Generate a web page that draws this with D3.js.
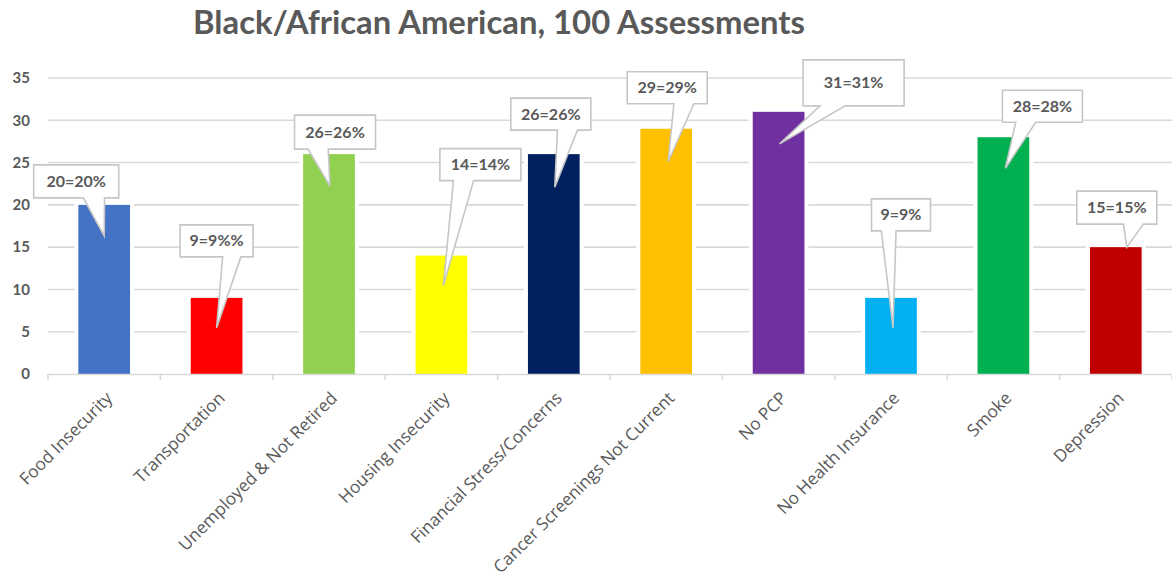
<!DOCTYPE html>
<html>
<head>
<meta charset="utf-8">
<script src="https://cdn.jsdelivr.net/npm/d3@7"></script>
<style>
  body { margin: 0; background: #ffffff; }
  svg { display: block; }
</style>
</head>
<body>
<svg id="chart" width="1172" height="578"></svg>
<script>
// ---- data ----
const chartTitle = "Black/African American, 100 Assessments";
const categories = [
  "Food Insecurity", "Transportation", "Unemployed & Not Retired", "Housing Insecurity",
  "Financial Stress/Concerns", "Cancer Screenings Not Current", "No PCP",
  "No Health Insurance", "Smoke", "Depression"
];
const values = [20, 9, 26, 14, 26, 29, 31, 9, 28, 15];
const valueLabels = [
  "20=20%", "9=9%%", "26=26%", "14=14%", "26=26%",
  "29=29%", "31=31%", "9=9%", "28=28%", "15=15%"
];
const barColors = [
  "#4472C4", "#FF0000", "#92D050", "#FFFF00", "#002060",
  "#FFC000", "#7030A0", "#00B0F0", "#00B050", "#C00000"
];
const yTicks = [0, 5, 10, 15, 20, 25, 30, 35];

// ---- callout geometry (box offset from bar centre, gap above bar top, box size, tail tip offset) ----
const calloutLayout = [
  { dx: -28, lift: 7,  w: 85,  h: 33, tipDx: 0,  tipDrop: 31 },
  { dx: 0,   lift: 41, w: 73,  h: 32, tipDx: 0,  tipDrop: 30 },
  { dx: 6,   lift: 5,  w: 81,  h: 34, tipDx: 1,  tipDrop: 32 },
  { dx: 39,  lift: 75, w: 81,  h: 32, tipDx: 2,  tipDrop: 30 },
  { dx: -3,  lift: 24, w: 80,  h: 32, tipDx: 1,  tipDrop: 33 },
  { dx: 1,   lift: 25, w: 80,  h: 32, tipDx: 2,  tipDrop: 33 },
  { dx: 75,  lift: 6,  w: 101, h: 46, tipDx: 1,  tipDrop: 32 },
  { dx: 10,  lift: 67, w: 59,  h: 32, tipDx: 2,  tipDrop: 30 },
  { dx: 39,  lift: 15, w: 80,  h: 32, tipDx: 2,  tipDrop: 31 },
  { dx: 1,   lift: 23, w: 80,  h: 33, tipDx: 11, tipDrop: 0 }
];

const W = 1172, H = 578;
const margin = { top: 78, right: 0, bottom: 204, left: 48 };
const textColor = "#595959";
const gridColor = "#d9d9d9";
const fontFamily = "Lato, 'Open Sans', sans-serif";
const labelFont = "'Open Sans', Lato, sans-serif";

const svg = d3.select("#chart");

const x = d3.scaleBand()
  .domain(categories)
  .range([margin.left, W - margin.right])
  .paddingInner(0.54)
  .paddingOuter(0.27);

const y = d3.scaleLinear()
  .domain([0, 35])
  .range([H - margin.bottom, margin.top]);

// ---- title ----
const titleText = svg.append("text")
  .attr("x", 499)
  .attr("y", 34)
  .attr("text-anchor", "middle")
  .attr("fill", textColor)
  .style("font-family", fontFamily)
  .style("font-weight", 700)
  .style("font-size", "26px")
  .text(chartTitle);
const tw = titleText.node().getComputedTextLength();
titleText.style("font-size", (26 * 612 / tw).toFixed(2) + "px");

// ---- gridlines ----
svg.append("g")
  .selectAll("line")
  .data(yTicks.filter(t => t > 0))
  .join("line")
  .attr("x1", margin.left)
  .attr("x2", W - margin.right)
  .attr("y1", d => y(d))
  .attr("y2", d => y(d))
  .attr("stroke", gridColor)
  .attr("stroke-width", 1.6);

// ---- y axis labels ----
const yAxis = d3.axisLeft(y).tickValues(yTicks).tickSize(0).tickPadding(0);
const yG = svg.append("g")
  .attr("transform", `translate(30,0)`)
  .call(yAxis);
yG.select(".domain").remove();
yG.selectAll("text")
  .attr("fill", textColor)
  .attr("x", 0)
  .style("font-family", fontFamily)
  .style("font-weight", 700)
  .style("font-size", "15px");

// ---- bars (white halo keeps gridlines clear of the bar edges) ----
const barG = svg.append("g");
barG.selectAll("rect.halo")
  .data(values)
  .join("rect")
  .attr("class", "halo")
  .attr("x", (d, i) => x(categories[i]) - 4)
  .attr("width", x.bandwidth() + 8)
  .attr("y", d => y(d) - 2)
  .attr("height", d => y(0) - y(d) + 2)
  .attr("fill", "#ffffff");
barG.selectAll("rect.bar")
  .data(values)
  .join("rect")
  .attr("class", "bar")
  .attr("x", (d, i) => x(categories[i]))
  .attr("width", x.bandwidth())
  .attr("y", d => y(d))
  .attr("height", d => y(0) - y(d))
  .attr("fill", (d, i) => barColors[i]);

// ---- x axis line and category boundary ticks ----
const step = x.step();
const axisG = svg.append("g");
axisG.append("line")
  .attr("x1", margin.left)
  .attr("x2", W - margin.right)
  .attr("y1", y(0) + 0.5)
  .attr("y2", y(0) + 0.5)
  .attr("stroke", gridColor)
  .attr("stroke-width", 1.6);
axisG.selectAll("line.tick")
  .data(d3.range(categories.length + 1))
  .join("line")
  .attr("class", "tick")
  .attr("x1", i => margin.left + i * step)
  .attr("x2", i => margin.left + i * step)
  .attr("y1", y(0))
  .attr("y2", y(0) + 6)
  .attr("stroke", gridColor)
  .attr("stroke-width", 1.6);

// ---- category labels ----
svg.append("g")
  .selectAll("text")
  .data(categories)
  .join("text")
  .attr("transform", d => `translate(${x(d) + x.bandwidth() / 2 + 5},${y(0) + 21}) rotate(-45)`)
  .attr("text-anchor", "end")
  .attr("dy", "0.35em")
  .attr("fill", textColor)
  .style("font-family", labelFont)
  .style("font-size", "17.2px")
  .text(d => d);

// ---- value callouts ----
function calloutPath(l, t, w, h, tx, ty) {
  const r = l + w, b = t + h, cx = l + w / 2;
  const right = tx >= cx;
  const bl = l + w * (right ? 7 : 2) / 12;
  const br = l + w * (right ? 10 : 5) / 12;
  return `M${l},${t}H${r}V${b}H${br}L${tx},${ty}L${bl},${b}H${l}Z`;
}

const callG = svg.append("g");
values.forEach((v, i) => {
  const c = calloutLayout[i];
  const cx = x(categories[i]) + x.bandwidth() / 2;
  const top = y(v);
  const bw = c.w, bh = c.h;
  const bl = cx + c.dx - bw / 2;
  const bb = top - c.lift;
  const bt = bb - bh;
  const tipX = cx + c.tipDx;
  const tipY = top + c.tipDrop;
  const g = callG.append("g");
  g.append("path")
    .attr("d", calloutPath(bl, bt, bw, bh, tipX, tipY))
    .attr("fill", "#ffffff")
    .attr("stroke", "#c6c6c6")
    .attr("stroke-width", 1.6)
    .attr("stroke-linejoin", "miter");
  g.append("text")
    .attr("x", bl + bw / 2)
    .attr("y", bt + bh / 2)
    .attr("dy", "0.35em")
    .attr("text-anchor", "middle")
    .attr("fill", textColor)
    .style("font-family", fontFamily)
    .style("font-weight", 700)
    .style("font-size", "16px")
    .text(valueLabels[i]);
});
</script>
</body>
</html>
